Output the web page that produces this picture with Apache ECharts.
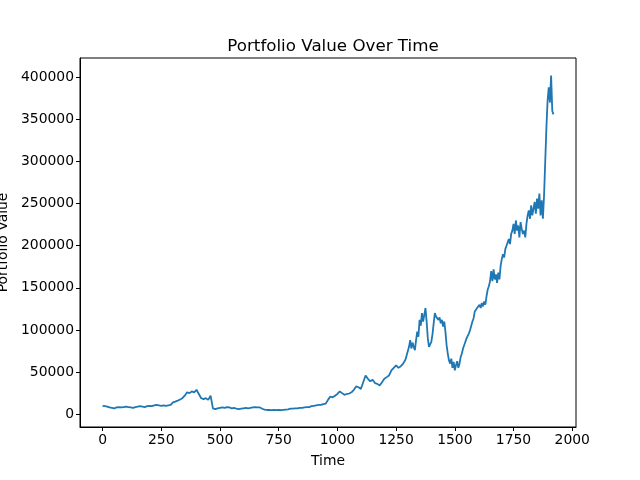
<!DOCTYPE html>
<html><head><meta charset="utf-8">
<script src="https://cdn.jsdelivr.net/npm/echarts@6/dist/echarts.min.js"></script>
<style>html,body{margin:0;padding:0;background:#fff}#c{width:640px;height:480px}</style>
</head><body><div id="c"></div>
<script>
// early period: portfolio value (thousands) at t = 0, 10, ... 1290
const earlyStart = 0, earlyStep = 10;
const earlyValuesK = [
10,9.5,9,8,7.5,7,8,8.5,8,8.5,
9,8.5,8,7.5,8.5,9,9.5,9,8.5,9.5,
10,9.5,10.5,11,10.5,10,10.5,10,10.5,11,
14,15,16,17.5,19,22,26,25,27,26,
29,24,19,18,19,17,22,7,6,7,
7.5,8,7.5,8.5,8,7,7.5,6.5,6,6.5,
7,7.5,7,7.5,8,8.5,8,8,6.5,5.5,
5,5,4.8,5,4.8,5,4.7,5.2,5.5,5.8,
6.5,6.5,7,6.8,7.5,7.5,8,8.5,8.5,9.5,
10,10.5,11,11,12,12.5,17,21,20,22,
24,27,25,23,24,24.5,26,29,33,32,
30,38,46,42,39,41,37,36,34,38,
42,44,46,52,55,58,55,57,60,65
];
// late period: portfolio value (thousands) at t = 1300, 1305, ... 1920
const lateStart = 1300, lateStep = 5;
const lateValuesK = [
75,80,88,78,85,80,76,88,98,92,
112,105,120,110,118,126,110,90,80,78,
86,95,108,120,116,118,112,115,108,112,
104,110,98,82,72,64,60,66,55,62,
52,58,63,55,60,68,72,78,80,86,
90,88,96,100,105,110,114,122,120,126,
124,130,126,132,128,134,130,140,148,152,
158,170,158,172,160,166,156,168,160,176,
184,190,186,196,200,204,208,202,214,218,
226,214,230,218,224,210,228,220,214,218,
210,226,236,242,232,248,236,244,252,238,
256,244,262,236,254,232,260,300,340,372,
388,370,402,360,356
];
const xTicks = [0,250,500,750,1000,1250,1500,1750,2000];
const yTicks = [0,50000,100000,150000,200000,250000,300000,350000,400000];

const data = earlyValuesK.map((v,i)=>[earlyStart+i*earlyStep, v*1000])
  .concat(lateValuesK.map((v,i)=>[lateStart+i*lateStep, v*1000]));
const font = 'DejaVu Sans';
const chart = echarts.init(document.getElementById('c'), null, {renderer:'canvas'});
chart.setOption({
  animation:false,
  backgroundColor:'#fff',
  title:{text:'Portfolio Value Over Time', left:328, top:33, textAlign:'center',
    textStyle:{fontFamily:font,fontSize:16.7,fontWeight:'normal',color:'#000'}},
  grid:{left:80,right:64,top:58,bottom:53,containLabel:false,outerBoundsMode:'none',
    show:true,borderColor:'#000',borderWidth:1,backgroundColor:'transparent'},
  xAxis:{type:'value',min:-96,max:2016,
    name:'Time',nameLocation:'middle',nameGap:27,
    nameTextStyle:{fontFamily:font,fontSize:13.9,color:'#000'},
    axisLine:{show:true,onZero:false,lineStyle:{color:'#000',width:1}},
    axisTick:{show:true,length:4,customValues:xTicks,lineStyle:{color:'#000'}},
    axisLabel:{customValues:xTicks,margin:6,fontFamily:font,fontSize:13.9,color:'#000',formatter:v=>String(v)},
    splitLine:{show:false}},
  yAxis:{type:'value',min:-15200,max:422900,
    name:'Portfolio Value',nameLocation:'middle',nameGap:68,
    nameTextStyle:{fontFamily:font,fontSize:13.9,color:'#000'},
    axisLine:{show:true,onZero:false,lineStyle:{color:'#000',width:1}},
    axisTick:{show:true,length:4,customValues:yTicks,lineStyle:{color:'#000'}},
    axisLabel:{customValues:yTicks,margin:6,fontFamily:font,fontSize:13.9,color:'#000',formatter:v=>String(v)},
    splitLine:{show:false}},
  series:[{type:'line',data:data,showSymbol:false,symbol:'none',
    lineStyle:{color:'#1f77b4',width:1.8},itemStyle:{color:'#1f77b4'}}]
});
</script></body></html>
